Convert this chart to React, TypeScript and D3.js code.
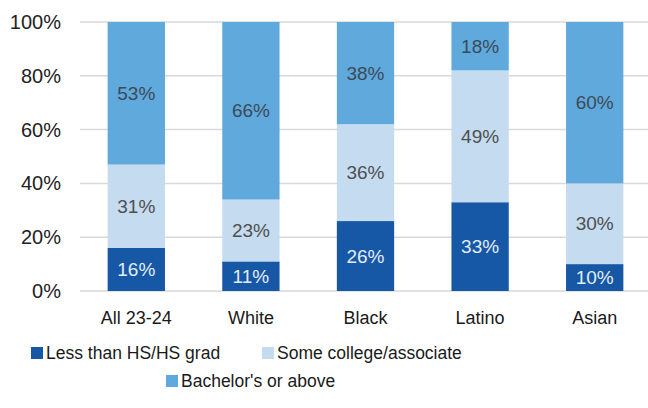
import React from "react";
import * as d3 from "d3";

const categories = ["All 23-24", "White", "Black", "Latino", "Asian"];
const seriesNames = ["Less than HS/HS grad", "Some college/associate", "Bachelor's or above"];
const lessThanHS = [16, 11, 26, 33, 10];
const someCollege = [31, 23, 36, 49, 30];
const bachelors = [53, 66, 38, 18, 60];
const yTicks = [0, 20, 40, 60, 80, 100];

const colors = ["#1657a6", "#c5dbf0", "#5fa9dc"];
const labelColors = ["#e3edf8", "#4f4f4f", "#3d4a58"];

const W = 648;
const H = 408;

export default function App() {
  const x = d3.scaleBand<string>().domain(categories).range([79, 652]).paddingInner(0.5).paddingOuter(0.25);
  const y = d3.scaleLinear().domain([0, 100]).range([291, 22]);

  const rows = categories.map((c, i) => ({
    cat: c,
    s0: lessThanHS[i],
    s1: someCollege[i],
    s2: bachelors[i],
  }));
  const stack = d3.stack<any>().keys(["s0", "s1", "s2"])(rows);

  const font = "'Liberation Sans', Arial, sans-serif";

  const legend = [
    { name: seriesNames[0], color: colors[0], x: 31, y: 353 },
    { name: seriesNames[1], color: colors[1], x: 262, y: 353 },
    { name: seriesNames[2], color: colors[2], x: 166, y: 381 },
  ];

  return (
    <svg width={W} height={H} style={{ position: "absolute", left: 0, top: 0, background: "#fff" }} fontFamily={font}>
      {yTicks.map((t) => (
        <g key={t}>
          <line x1={80} x2={648} y1={y(t)} y2={y(t)} stroke="#d9d9d9" strokeWidth={1.5} />
          <text x={61} y={y(t)} dy="0.35em" textAnchor="end" fontSize={20} fill="#222">
            {t}%
          </text>
        </g>
      ))}
      {stack.map((layer, li) =>
        layer.map((d, i) => {
          const x0 = x(categories[i])!;
          const y0 = y(d[1]);
          const h = y(d[0]) - y(d[1]);
          const v = d[1] - d[0];
          return (
            <g key={`${li}-${i}`}>
              <rect x={x0} y={y0} width={x.bandwidth()} height={h} fill={colors[li]} />
              <text
                x={x0 + x.bandwidth() / 2}
                y={y0 + h / 2}
                dy="0.35em"
                textAnchor="middle"
                fontSize={19}
                fill={labelColors[li]}
              >
                {v}%
              </text>
            </g>
          );
        })
      )}
      {categories.map((c) => (
        <text key={c} x={x(c)! + x.bandwidth() / 2} y={318} dy="0.35em" textAnchor="middle" fontSize={18} fill="#1a1a1a">
          {c}
        </text>
      ))}
      {legend.map((l) => (
        <g key={l.name}>
          <rect x={l.x} y={l.y - 6} width={12} height={12} fill={l.color} />
          <text x={l.x + 15} y={l.y} dy="0.35em" fontSize={17.5} fill="#1a1a1a">
            {l.name}
          </text>
        </g>
      ))}
    </svg>
  );
}
